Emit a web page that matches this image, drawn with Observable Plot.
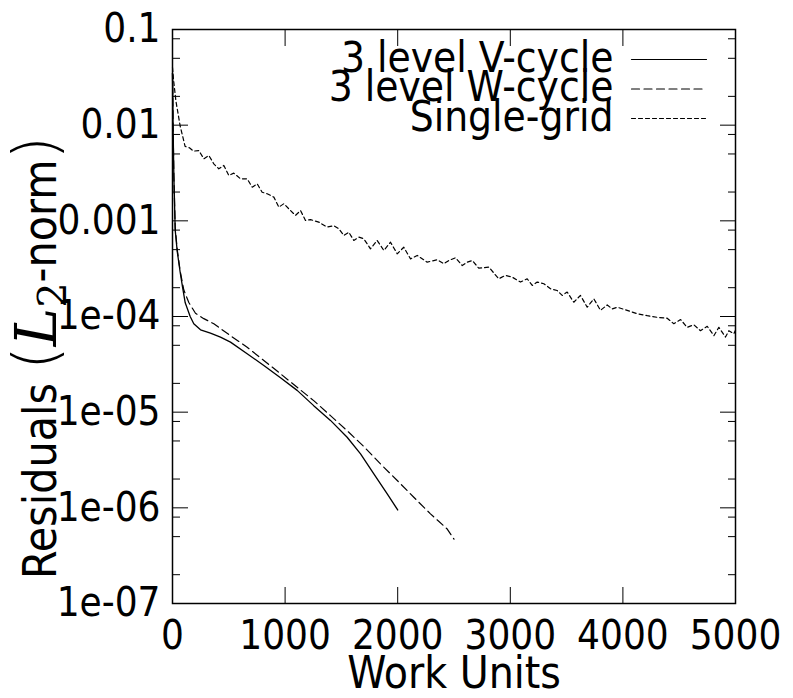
<!DOCTYPE html>
<html><head><meta charset="utf-8">
<script src="https://cdn.jsdelivr.net/npm/d3@7"></script>
<script src="https://cdn.jsdelivr.net/npm/@observablehq/plot@0.6"></script>
<style>body{margin:0;background:#fff}</style>
</head><body><div id="chart"></div>
<script>
// ---- data ----
const vWork = [0, 5, 12, 24, 42, 68, 90, 113, 157, 189, 249, 337, 426, 515, 663, 811, 959, 1107, 1254, 1403, 1551, 1670, 1788, 1907, 2000];
const vRes  = [0.035, 0.01, 0.003, 8e-4, 4.8e-4, 2.9e-4, 2e-4, 1.39e-4, 1.0e-4, 8.4e-5, 7.26e-5, 6.7e-5, 6.08e-5, 5.4e-5, 4.08e-5, 3.08e-5, 2.29e-5, 1.69e-5, 1.17e-5, 8.2e-6, 5.47e-6, 3.67e-6, 2.27e-6, 1.4e-6, 9.5e-7];

const wWork = [0, 5, 12, 24, 42, 68, 100, 145, 204, 278, 367, 515, 663, 811, 959, 1107, 1254, 1403, 1551, 1699, 1847, 1996, 2143, 2291, 2440, 2500];
const wRes  = [0.035, 0.01, 0.003, 8.5e-4, 5e-4, 3e-4, 1.9e-4, 1.4e-4, 1.08e-4, 9.5e-5, 8.4e-5, 6.3e-5, 4.77e-5, 3.47e-5, 2.52e-5, 1.82e-5, 1.32e-5, 9.2e-6, 6.4e-6, 4.37e-6, 2.88e-6, 1.93e-6, 1.29e-6, 8.65e-7, 6.0e-7, 4.7e-7];

const sWork = [0, 9, 30, 68, 112, 150, 186, 234, 278, 323, 367, 411, 456, 500, 544, 604, 663, 708, 752, 796, 841, 900, 944, 989, 1048, 1092, 1137, 1181, 1226, 1299, 1374, 1433, 1477, 1522, 1566, 1610, 1655, 1699, 1758, 1818, 1877, 1936, 1996, 2054, 2114, 2173, 2262, 2351, 2410, 2454, 2513, 2573, 2617, 2662, 2720, 2809, 2898, 2957, 3017, 3091, 3150, 3195, 3239, 3298, 3357, 3416, 3461, 3505, 3564, 3623, 3683, 3742, 3801, 3861, 3905, 3950, 4038, 4127, 4216, 4305, 4393, 4452, 4512, 4571, 4630, 4689, 4749, 4808, 4852, 4911, 4941, 4985, 5000];
const sRes  = [0.04, 0.03, 0.018, 0.0098, 0.006, 0.0058, 0.00535, 5.43e-3, 4.45e-3, 4.82e-3, 3.94e-3, 3.5e-3, 3.79e-3, 2.98e-3, 3.15e-3, 2.75e-3, 2.75e-3, 2.25e-3, 2.44e-3, 1.99e-3, 1.92e-3, 1.77e-3, 1.39e-3, 1.51e-3, 1.28e-3, 1.14e-3, 1.28e-3, 1.01e-3, 1.03e-3, 9.7e-4, 8.6e-4, 8.9e-4, 8.26e-4, 7.03e-4, 7.6e-4, 6.23e-4, 6.75e-4, 6.49e-4, 5.1e-4, 6.23e-4, 4.9e-4, 5.98e-4, 4.52e-4, 5.3e-4, 4.0e-4, 4.35e-4, 3.7e-4, 3.92e-4, 3.56e-4, 3.85e-4, 4.11e-4, 3.41e-4, 3.7e-4, 3.85e-4, 3.2e-4, 3.28e-4, 2.48e-4, 2.69e-4, 2.58e-4, 2.29e-4, 2.48e-4, 2.11e-4, 2.29e-4, 2.2e-4, 1.95e-4, 1.87e-4, 1.66e-4, 1.8e-4, 1.41e-4, 1.66e-4, 1.25e-4, 1.53e-4, 1.16e-4, 1.32e-4, 1.2e-4, 1.25e-4, 1.16e-4, 1.07e-4, 1.02e-4, 9.8e-5, 9.6e-5, 8.4e-5, 9.3e-5, 7.7e-5, 8.2e-5, 7.1e-5, 7.9e-5, 6.3e-5, 7.7e-5, 6.1e-5, 7.1e-5, 6.6e-5, 7.2e-5];

const seriesNames = ["3 level V-cycle", "3 level W-cycle", "Single-grid"];
const xTicks = [0, 1000, 2000, 3000, 4000, 5000];
const yMajor = [1e-7, 1e-6, 1e-5, 1e-4, 1e-3, 1e-2, 1e-1];
const yMajorLabels = ["1e-07", "1e-06", "1e-05", "1e-04", "0.001", "0.01", "0.1"];
const yMinorMult = [2, 5, 8];
const xTitle = "Work Units";
const yTitle = "Residuals (L2-norm)";

// ---- build ----
const toRows = (xs, ys) => xs.map((x, i) => ({x, y: ys[i]}));
const vRows = toRows(vWork, vRes), wRows = toRows(wWork, wRes), sRows = toRows(sWork, sRes);
const yMinor = [];
for (const d of yMajor.slice(0, -1)) for (const m of yMinorMult) yMinor.push(d * m);
const labelOf = d => yMajorLabels[yMajor.indexOf(d)];

const FONT = '"DejaVu Sans Condensed", "DejaVu Sans", sans-serif';
const FS = 40;
const dashes = [null, "8,4.5", "4,3"];
const lineShape = {draw(ctx, l) { ctx.moveTo(0, 0); ctx.lineTo(0, -l); }};

const legendMarks = [];
seriesNames.forEach((name, i) => {
  legendMarks.push(Plot.text([name], {frameAnchor: "top-right", dx: -122, dy: 29 + 29.5 * i, textAnchor: "end", lineAnchor: "middle", fontSize: 42}));
  legendMarks.push(Plot.vector([0], {frameAnchor: "top-right", dx: -104, dy: 30 + 29.5 * i, rotate: 90, length: 75, anchor: "start", shape: lineShape, stroke: "black", strokeWidth: 1.2, strokeDasharray: dashes[i] ?? undefined}));
});

const chart = Plot.plot({
  width: 793, height: 698,
  marginLeft: 172, marginRight: 58, marginTop: 29, marginBottom: 95,
  style: {fontFamily: FONT, fontSize: FS + "px", background: "white", color: "black", overflow: "visible"},
  x: {domain: [0, 5000]},
  y: {type: "log", domain: [1e-7, 0.1]},
  marks: [
    Plot.axisY(yMajor, {anchor: "left", tickSize: -16, tickPadding: 28, tickFormat: labelOf, label: null, fontSize: FS}),
    Plot.axisY(yMajor, {anchor: "right", tickSize: -16, tickFormat: () => "", label: null}),
    Plot.axisY(yMinor, {anchor: "left", tickSize: -8, tickFormat: () => "", label: null}),
    Plot.axisY(yMinor, {anchor: "right", tickSize: -8, tickFormat: () => "", label: null}),
    Plot.axisX(xTicks, {anchor: "bottom", tickSize: -16, tickPadding: 33, tickFormat: d => String(d), label: null, fontSize: FS}),
    Plot.axisX(xTicks, {anchor: "top", tickSize: -16, tickFormat: () => "", label: null}),
    Plot.line(sRows, {x: "x", y: "y", stroke: "black", strokeWidth: 1.2, strokeDasharray: "4,3"}),
    Plot.line(wRows, {x: "x", y: "y", stroke: "black", strokeWidth: 1.2, strokeDasharray: "8,4.5"}),
    Plot.line(vRows, {x: "x", y: "y", stroke: "black", strokeWidth: 1.3}),
    Plot.frame({stroke: "black", strokeWidth: 1.5}),
    ...legendMarks,
    Plot.text([xTitle], {frameAnchor: "bottom", dy: 70, lineAnchor: "middle", textAnchor: "middle", fontSize: 44}),
    Plot.text([yTitle], {frameAnchor: "left", dx: -131, dy: 41, rotate: -90, lineAnchor: "middle", textAnchor: "middle", fontSize: 46})
  ]
});
document.getElementById("chart").appendChild(chart);

// rich formatting of the y title: (L_2-norm) with math italic L and subscript
d3.select(chart).selectAll("text").filter(function() { return this.textContent === yTitle; }).each(function() {
  const t = d3.select(this);
  t.text(null);
  t.append("tspan").text("Residuals ");
  t.append("tspan").attr("font-size", 60).attr("font-family", "DejaVu Sans").attr("font-weight", 200).text("(");
  t.append("tspan").attr("font-family", "DejaVu Serif").attr("font-style", "italic").attr("font-size", 58).text("L");
  t.append("tspan").attr("font-size", 40).attr("dy", 10).attr("font-family", "DejaVu Serif").text("2");
  t.append("tspan").attr("dy", -10).text("-norm");
  t.append("tspan").attr("font-size", 60).attr("font-family", "DejaVu Sans").attr("font-weight", 200).text(")");
});
</script>
</body></html>
